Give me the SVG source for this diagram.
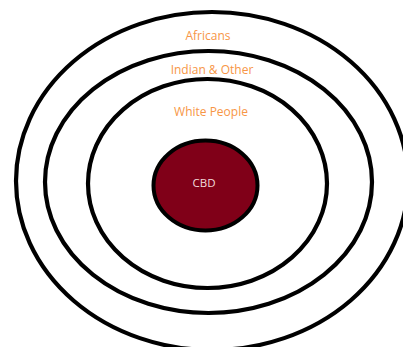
<svg xmlns="http://www.w3.org/2000/svg" width="403" height="347" viewBox="0 0 403 347">
<style>
.ring{fill:none;stroke:#000;stroke-width:4.2}
.lbl{font-family:"Open Sans","Liberation Sans",sans-serif;font-size:12px;fill:#F79646;text-anchor:middle}
.cbd{font-family:"Open Sans","Liberation Sans",sans-serif;font-size:11.5px;fill:#F2DCDB;text-anchor:middle}
</style>
<rect width="403" height="347" fill="#fff"/>
<g id="africans"><ellipse class="ring" cx="212" cy="181" rx="196" ry="169"/><text class="lbl" x="208" y="40">Africans</text></g>
<g id="indian-other"><ellipse class="ring" cx="208.5" cy="182" rx="163.5" ry="131"/><text class="lbl" x="212" y="74">Indian &amp; Other</text></g>
<g id="white-people"><ellipse class="ring" cx="207.5" cy="183.5" rx="119.5" ry="104.5"/><text class="lbl" x="211" y="116">White People</text></g>
<g id="cbd"><ellipse cx="205.5" cy="185.5" rx="52" ry="45" fill="#800018" stroke="#000" stroke-width="4"/><text class="cbd" x="204" y="187">CBD</text></g>
<g id="connectors"/>
</svg>
